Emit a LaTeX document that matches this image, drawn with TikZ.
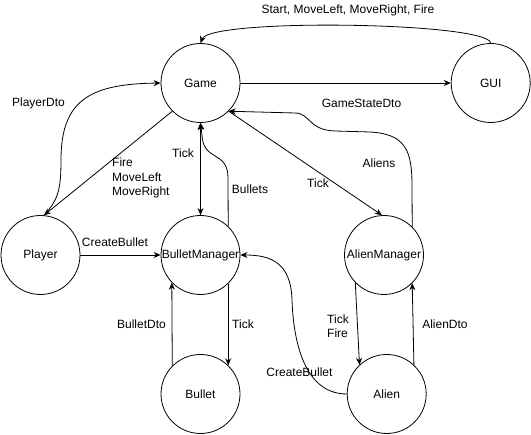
\documentclass[tikz,border=0pt]{standalone}
\usepackage{fontspec}
\setmainfont{Liberation Sans}
\usetikzlibrary{arrows.meta}
\begin{document}
\begin{tikzpicture}[x=1pt,y=-1pt,
  st/.style={circle,draw,line width=0.8pt,minimum size=79pt,inner sep=0pt,font=\fontsize{12}{14}\selectfont},
  conn/.style={line width=0.8pt,-{Stealth[length=7pt,width=6pt]}},
  conn2/.style={line width=0.8pt,{Stealth[length=7pt,width=6pt]}-{Stealth[length=7pt,width=6pt]}},
  lbl/.style={font=\fontsize{12}{14.5}\selectfont,inner sep=0pt,align=left}]
\useasboundingbox (0,0) rectangle (531,435);
\node[st] (game) at (200.5,83) {Game};
\node[st] (gui) at (490.7,83) {GUI};
\node[st] (player) at (40.5,255) {Player};
\node[st] (bm) at (200.5,255) {BulletManager};
\node[st] (bullet) at (200.5,394) {Bullet};
\node[st] (am) at (384,255) {AlienManager};
\node[st] (alien) at (386.7,394) {Alien};

\draw[conn] (gui.north) .. controls (488,22) and (210,18) .. (game.north);
\node[lbl] (l1) at (348,10) {Start, MoveLeft, MoveRight, Fire};
\draw[conn] (game.east) -- (gui.west);
\node[lbl] (l2) at (361.5,103) {GameStateDto};
\draw[conn] (player.85) .. controls (58,200) and (61,190) .. (61,160) .. controls (61,100) and (90,84) .. (game.west);
\node[lbl] (l3) at (38.5,103) {PlayerDto};
\draw[conn] (game.225) -- (player.85);
\node[lbl,anchor=west] (l4) at (112,178) {Fire\\MoveLeft\\MoveRight};
\draw[conn2] (game.south) -- (bm.north);
\node[lbl] (l5) at (183,153) {Tick};
\draw[conn] (bm.46.6) -- (228,178) .. controls (228,150) and (203,162) .. (202,135) -- (game.south);
\node[lbl] (l6) at (250,189) {Bullets};
\draw[conn] (bm.-46.6) -- (bullet.46.6);
\node[lbl] (l7) at (243,324) {Tick};
\draw[conn] (bullet.135.4) -- (bm.224.6);
\node[lbl] (l8) at (141.5,324) {BulletDto};
\draw[conn] (player.east) -- (bm.west);
\node[lbl] (l9) at (115,242) {CreateBullet};
\draw[conn] (alien.west) .. controls (300,394) and (293,330) .. (292,300) .. controls (291,262) and (270,255) .. (bm.east);
\node[lbl] (l10) at (299.5,372) {CreateBullet};
\draw[conn] (game.-45) -- (am.93);
\node[lbl] (l11) at (318,183) {Tick};
\draw[conn] (am.45) -- (412,185) .. controls (412,150) and (405,134) .. (370,132) -- (335,131) .. controls (308,130) and (310,113) .. (295,113) -- (game.-45);
\node[lbl] (l12) at (379,163) {Aliens};
\draw[conn] (am.224) -- (alien.133);
\node[lbl,anchor=west] (l13) at (327,326) {Tick\\Fire};
\draw[conn] (alien.47) -- (am.-45);
\node[lbl] (l14) at (445,324) {AlienDto};
\end{tikzpicture}
\end{document}
